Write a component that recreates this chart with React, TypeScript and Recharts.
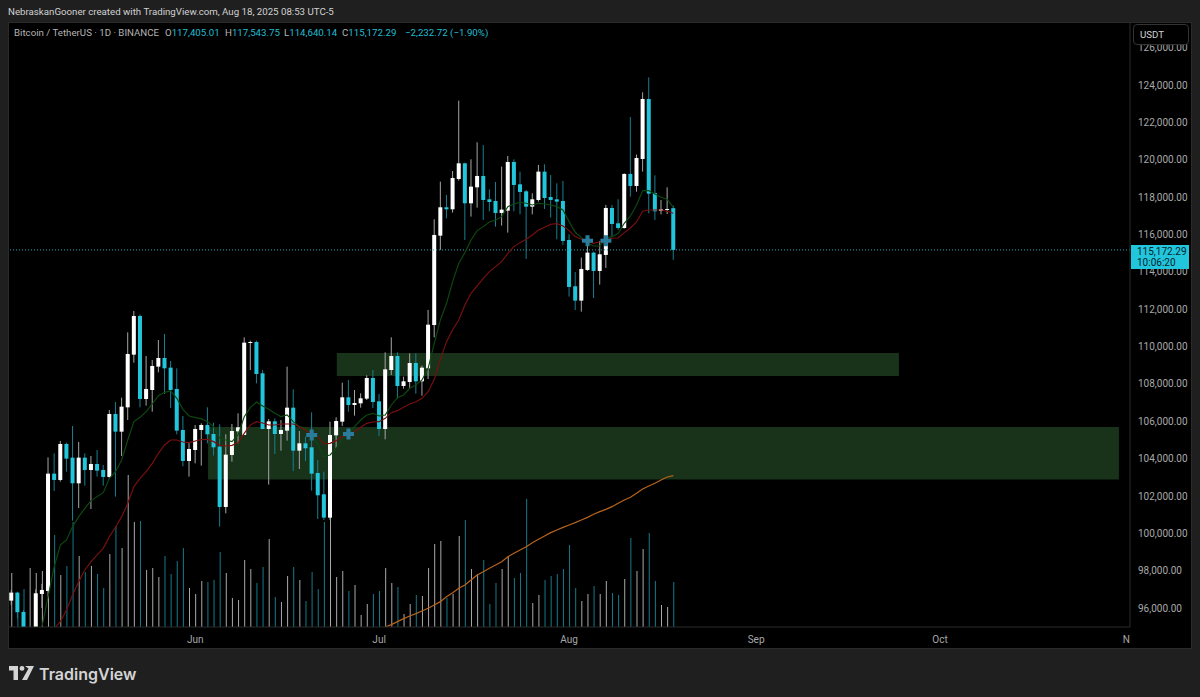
import React from "react";
import { Bar, ComposedChart, Line, ReferenceArea, ReferenceLine, XAxis, YAxis } from "recharts";

const WIDTH = 1200;
const HEIGHT = 697;

// daily candles, first one is May 2 2025
const opens = [96399,96827,95793,94300,94750,96756,96916,103196,102857,104784,104052,102679,104052,103392,103713,103392,103018,106390,105444,106746,109565,111634,107192,107674,108923,109387,108869,107728,105533,103874,104463,105533,105801,105319,104641,101412,104195,105461,105265,110189,110243,108566,105586,105997,105319,105497,106728,104427,104819,104605,103231,102090,100841,105247,105979,107281,106871,106960,107210,108316,107067,105586,108744,109493,107888,108102,109119,108137,108833,111152,115936,117453,117346,118969,119808,117667,118523,119130,117881,117792,117150,117275,119879,118684,118309,117489,117845,119362,118006,117881,117792,115705,113225,112458,114099,115027,114045,114902,117417,116597,116347,119237,118595,120040,123251,118220,117257,117310,117405.01];
const closes = [96827,95775,94651,94750,96792,96970,103196,102857,104784,103999,102679,104052,103392,103713,103357,103018,106390,105444,106782,109601,111634,107192,107728,108958,109387,108834,107674,105498,103874,104516,105587,105801,105301,104606,101412,104213,105479,105675,110207,110243,108530,105586,105997,105319,105533,106728,104427,104819,104552,103196,102036,100841,105265,106014,107281,106871,106978,107228,108316,107031,105586,108780,109493,107888,108137,109119,108137,108869,111170,115972,117453,117346,119023,119808,117667,118559,119130,117845,117738,117150,117328,119879,118648,118274,117489,117881,119362,117952,117845,117756,115651,113189,112458,114153,115027,114045,114937,117417,116561,116347,119237,118595,120093,123251,118184,117239,117346,117364,115172.29];
const highs = [96970,96880,95900,94950,97000,97300,104070,104284,104944,104855,105747,104891,104284,104142,104463,103660,106604,107032,107264,110760,111902,111724,109494,109280,110350,110671,109226,108834,106282,104855,105801,105890,106746,105926,105836,105301,105854,106425,110492,110314,110314,108744,106122,106157,106068,108922,107709,105479,105176,106478,103927,103303,105979,106211,108066,108209,107674,107495,108458,108744,107460,109690,110492,109690,108387,109636,109636,108976,111958,116811,118827,118113,119397,123162,119843,120022,120932,120789,118416,118809,119629,120200,120022,119362,118381,118202,119719,119754,119183,118737,118862,116008,113992,114759,115669,115080,115651,117578,117578,117881,119273,122288,120272,123608,124411,119166,117845,118523,117543.75];
const lows = [96167,95453,94383,93500,93400,96000,96613,102268,102768,103303,100681,101359,102554,101305,103036,102554,102946,101965,104142,106068,109137,106746,106836,106514,108620,107460,106711,105301,103589,103036,103749,103624,104820,104160,100360,101073,103838,104819,105265,108744,108030,105586,102607,104248,104427,104962,103338,103445,103874,102286,100770,100716,100716,104569,105747,106514,106300,106728,107138,106710,105212,105033,108476,107210,107745,107763,107477,107370,108262,110492,115169,116864,117167,118880,115705,116953,117435,116775,117239,116418,116472,116097,117239,117078,114688,117078,117756,117364,116900,115740,115437,112672,111958,111869,114045,112600,113314,114206,115883,116240,116311,118024,118291,119362,117132,116775,117078,117096,114640.14];
// volume in BTC, roughly
const volumes = [5400,1400,3800,5900,5400,5600,3600,9200,5200,6100,10500,7100,5500,6100,5300,3900,7300,10100,7900,15200,10500,10600,5700,5900,5000,7100,5300,6600,7900,3900,3300,4600,4500,4700,7500,5400,2900,2700,6700,5800,4400,6000,8800,3000,2500,5100,6000,4700,2600,5500,3800,10500,11200,5000,5600,3600,4200,1200,2300,3300,3600,5900,4400,4000,1300,2300,3200,3100,5900,8300,8600,2900,3300,9100,10700,5800,5300,6700,2300,4400,5800,7000,4900,5400,12800,2400,3200,4700,5100,5300,5800,8200,3900,2600,3300,4100,3300,4600,3400,3200,4800,8900,5600,7800,9400,4600,2200,2000,4500];

const greenStart = 5;
const greenEma = [95007,96613,98219,99378,99646,100360,100895,101341,101751,101965,102179,102946,103303,103928,104998,105979,106211,106514,106925,107371,107549,107620,107228,106639,106282,106193,106140,105979,105711,105087,104998,104908,105265,106246,106746,107031,106817,106639,106425,106246,106336,105979,105711,105622,105354,104730,104106,104195,104552,105087,105265,105711,106068,106336,106425,106282,106336,106871,107263,107406,107763,107941,108209,108833,110171,111423,112315,113474,114456,115027,115705,116204,116418,116668,116775,116953,117489,117631,117721,117667,117578,117667,117631,117578,117489,117310,116686,116115,115829,115526,115383,115383,115794,115883,116061,116597,116989,117578,118345,118345,118167,117988,117881,117453];
const redStart = 7;
const redEma = [94900,95275,95900,96702,97416,98040,98486,98843,99200,99824,100324,100895,101608,102500,102946,103303,103749,104284,104730,104998,104998,104891,104855,104944,105016,105034,104909,104713,104677,104712,104855,105354,105800,105979,105907,105800,105800,105854,105854,105854,105711,105533,105301,105176,104783,104819,104962,105176,105265,105444,105675,105890,105961,105979,106157,106460,106567,106746,106924,107049,107228,107584,108244,109315,110260,110900,111423,112226,112850,113243,113653,114010,114277,114545,114991,115348,115562,115740,115972,116240,116383,116543,116579,116454,116204,115883,115740,115633,115526,115597,115705,115794,115812,116097,116347,116668,117239,117310,117310,117310,117239,117132];
const orangeStart = 61;
const orangeMa = [94990,95114,95275,95435,95578,95703,95846,95988,96165,96344,96611,96826,97057,97236,97503,97771,97949,98128,98306,98485,98752,98931,99109,99287,99501,99680,99858,100037,100179,100322,100447,100572,100715,100857,101019,101161,101286,101429,101607,101786,101928,102143,102375,102535,102678,102856,103017,103088];

const priceTicks = [96000,98000,100000,102000,104000,106000,108000,110000,112000,114000,116000,118000,120000,122000,124000,126000];
const monthDays = [30, 60, 91, 121.5, 151.5, 182.5];
const monthLabels = ["Jun", "Jul", "Aug", "Sep", "Oct", "N"];

const crossDays = [49, 55, 94, 97];
const crossPrices = [105265, 105318, 115665, 115665];

const zones = [
  { from: 53.1, to: 144.8, top: 109653, bottom: 108422 },
  { from: 32.1, to: 180.7, top: 105692, bottom: 102882 },
];

const lastPrice = 115172.29;

const table = opens.map((open, i) => ({
  day: i,
  open,
  close: closes[i],
  high: highs[i],
  low: lows[i],
  volume: volumes[i],
  green: greenEma[i - greenStart] ?? null,
  red: redEma[i - redStart] ?? null,
  orange: orangeMa[i - orangeStart] ?? null,
  cross: crossDays.includes(i) ? crossPrices[crossDays.indexOf(i)] : null,
}));

const UP = "#ffffff";
const DOWN = "#22c6dc";
const UP_WICK = "#a6a6a6";
const DOWN_WICK = "#177f91";

function Candle(props: any) {
  const { x, y, width, height, payload } = props;
  const { open, close, high, low } = payload;
  const unit = height / (high - low);
  const up = close >= open;
  const top = y + (high - Math.max(open, close)) * unit;
  const bodyH = Math.max(Math.abs(close - open) * unit, 1);
  const mid = x + width / 2;
  return (
    <g>
      <line x1={mid} x2={mid} y1={y} y2={y + height} stroke={up ? UP_WICK : DOWN_WICK} strokeWidth={1} />
      <rect x={x} y={top} width={width} height={bodyH} fill={up ? UP : DOWN} />
    </g>
  );
}

function VolumeBar(props: any) {
  const { x, y, width, height, payload } = props;
  return <rect x={x} y={y} width={width} height={height} fill={payload.close >= payload.open ? "#a8a8a8" : "#14798b"} />;
}

function Cross(props: any) {
  const { cx, cy, value } = props;
  if (value == null || cy == null) return <g key={props.index} />;
  return (
    <g key={props.index} fill="#2a7c9c">
      <rect x={cx - 5.5} y={cy - 2} width={11} height={4} />
      <rect x={cx - 2} y={cy - 5.5} width={4} height={11} />
    </g>
  );
}

function MonthTick(props: any) {
  const { x, y, index } = props;
  const last = index === monthLabels.length - 1;
  return (
    <text x={x} y={y + 8} textAnchor={last ? "end" : "middle"} fill="#a8a8a8" fontSize={10} fontFamily="Roboto">
      {monthLabels[index]}
    </text>
  );
}

const abs = (left: number, top: number, extra: any = {}) => ({
  position: "absolute" as const,
  left,
  top,
  whiteSpace: "nowrap" as const,
  ...extra,
});

const teal = { color: "#22bcd2" };
const legendFont = 9.7;

export default function App() {
  return (
    <div style={abs(0, 0, { width: WIDTH, height: HEIGHT, background: "#1f1f1f", overflow: "hidden", fontFamily: "Roboto" })}>
      <div style={abs(8, 22, { width: 1184, height: 627, background: "#000", border: "1px solid #2a2a2a", boxSizing: "border-box" })} />

      <div style={abs(0, 0)}>
        <ComposedChart
          width={WIDTH}
          height={HEIGHT}
          data={table}
          margin={{ top: 22, right: 8, bottom: 48, left: 8 }}
          barGap={0}
        >
          <XAxis
            dataKey="day"
            type="number"
            domain={[-0.54, 182.5]}
            allowDataOverflow
            ticks={monthDays}
            interval={0}
            tick={<MonthTick />}
            tickLine={false}
            axisLine={{ stroke: "#2a2a2a" }}
            height={22}
          />
          <XAxis xAxisId="vol" dataKey="day" type="number" domain={[-0.54, 182.5]} allowDataOverflow hide />
          <YAxis
            orientation="right"
            type="number"
            domain={[94987, 127372]}
            allowDataOverflow
            ticks={priceTicks}
            interval={0}
            width={62}
            tickFormatter={(v: number) => v.toLocaleString("en-US", { minimumFractionDigits: 2 })}
            tick={{ fill: "#a8a8a8", fontSize: 10, fontFamily: "Roboto" }}
            tickLine={false}
            tickMargin={2}
            axisLine={{ stroke: "#2a2a2a" }}
          />
          <YAxis yAxisId="vol" orientation="left" type="number" domain={[0, 60500]} hide />

          <Bar xAxisId="vol" yAxisId="vol" dataKey="volume" barSize={1} shape={<VolumeBar />} isAnimationActive={false} />

          {zones.map((z) => (
            <ReferenceArea key={z.from} x1={z.from} x2={z.to} y1={z.bottom} y2={z.top} fill="#19321a" fillOpacity={1} stroke="none" />
          ))}

          <ReferenceLine y={lastPrice} stroke="#2aa9bd" strokeDasharray="1 2" />

          <Line dataKey="orange" stroke="#b8641c" strokeWidth={1.2} dot={false} isAnimationActive={false} />
          <Line dataKey="green" stroke="#0c4a10" strokeWidth={1.15} dot={false} isAnimationActive={false} />
          <Line dataKey="red" stroke="#7a0f0f" strokeWidth={1.15} dot={false} isAnimationActive={false} />
          <Line dataKey="cross" stroke="none" dot={<Cross />} isAnimationActive={false} />

          <Bar dataKey={(d: any) => [d.low, d.high]} barSize={4} shape={<Candle />} isAnimationActive={false} />
        </ComposedChart>
      </div>

      <div style={abs(8, 6, { color: "#d2d2d2", fontSize: legendFont })}>NebraskanGooner created with TradingView.com, Aug 18, 2025 08:53 UTC-5</div>

      <div style={abs(14, 27, { color: "#b4b4b4", fontSize: legendFont })}>Bitcoin / TetherUS · 1D · BINANCE</div>
      <div style={abs(165, 27, { color: "#b4b4b4", fontSize: legendFont })}>O<span style={teal}>117,405.01</span></div>
      <div style={abs(225, 27, { color: "#b4b4b4", fontSize: legendFont })}>H<span style={teal}>117,543.75</span></div>
      <div style={abs(284, 27, { color: "#b4b4b4", fontSize: legendFont })}>L<span style={teal}>114,640.14</span></div>
      <div style={abs(342, 27, { color: "#b4b4b4", fontSize: legendFont })}>C<span style={teal}>115,172.29</span></div>
      <div style={abs(405, 27, { fontSize: legendFont, ...teal })}>−2,232.72 (−1.90%)</div>

      <div style={abs(1133, 24, { width: 56, height: 21, background: "#000", border: "1px solid #333", borderRadius: 4, boxSizing: "border-box", color: "#d2d2d2", fontSize: legendFont, lineHeight: "19px", paddingLeft: 6 })}>USDT</div>

      <div style={abs(1131, 245, { width: 58, height: 24, background: "#22c6dc", color: "#06222a", fontSize: 10, lineHeight: "11px", paddingLeft: 6, paddingTop: 1, boxSizing: "border-box" })}>
        115,172.29
        <br />
        10:06:20
      </div>

      <svg style={abs(9, 666)} width={25} height={15} viewBox="0 0 25 15">
        <path d="M0 0H9V14H4.5V4.5H0Z M16 0H25L18 14H13L19.5 2.5Z" fill="#d4d4d4" />
        <circle cx={13} cy={2.4} r={2.4} fill="#d4d4d4" />
      </svg>
      <div style={abs(39, 664, { color: "#d4d4d4", fontSize: 16, fontWeight: 600, fontFamily: "Inter" })}>TradingView</div>
    </div>
  );
}
